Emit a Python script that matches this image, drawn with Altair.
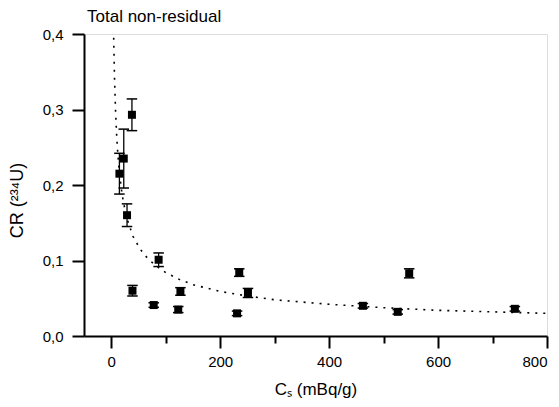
import altair as alt
import pandas as pd

# Measured points
cs = [15, 23, 38, 29, 39, 87, 78, 127, 123, 235, 251, 231, 462, 526, 547, 741]
cr = [0.215, 0.235, 0.293, 0.160, 0.060, 0.101, 0.041, 0.059, 0.035, 0.084,
      0.057, 0.030, 0.040, 0.032, 0.083, 0.036]
err = [0.027, 0.039, 0.021, 0.015, 0.007, 0.009, 0.003, 0.005, 0.004, 0.005,
       0.006, 0.003, 0.003, 0.003, 0.006, 0.003]

# Dotted fitted curve
fit_x = [4.5, 6, 8, 10, 12, 15, 20, 25, 30, 40, 50, 60, 80, 100, 125, 150,
         200, 250, 300, 400, 500, 600, 700, 800]
fit_y = [0.395, 0.342, 0.296, 0.265, 0.242, 0.216, 0.187, 0.168, 0.153, 0.132,
         0.119, 0.108, 0.094, 0.084, 0.075, 0.068, 0.059, 0.053, 0.048, 0.042,
         0.0375, 0.034, 0.032, 0.030]

x_ticks = [0, 100, 200, 300, 400, 500, 600, 700, 800]
y_ticks = [0.0, 0.05, 0.1, 0.15, 0.2, 0.25, 0.3, 0.35, 0.4]

df = pd.DataFrame({"cs": cs, "cr": cr, "err": err})
df["lo"] = df["cr"] - df["err"]
df["hi"] = df["cr"] + df["err"]
fit = pd.DataFrame({"x": fit_x, "y": fit_y})

FONT = "Liberation Sans"
xs = alt.Scale(domain=[-50, 800], nice=False, zero=False)
ys = alt.Scale(domain=[0, 0.4], nice=False)

x_major_test = "datum.value % 200 === 0"
y_major_test = "abs(datum.value * 10 - round(datum.value * 10)) < 0.001"

xax = alt.Axis(values=x_ticks, title="Cₛ  (mBq/g)", grid=False,
               tickSize={"condition": {"test": x_major_test, "value": 12}, "value": 7},
               tickWidth=2, domainWidth=2, domainColor="black", tickColor="black",
               labelFont=FONT, labelFontSize=15, labelColor="black", labelPadding=6,
               labelExpr="datum.value % 200 === 0 ? format(datum.value, 'd') : ''",
               labelOverlap=False,
               titleFont=FONT, titleFontSize=17, titleFontWeight="normal",
               titleColor="black", titlePadding=12)
yax = alt.Axis(values=y_ticks, title="CR (²³⁴U)", grid=False,
               tickSize={"condition": {"test": y_major_test, "value": 12}, "value": 7},
               tickWidth=2, domainWidth=2, domainColor="black", tickColor="black",
               labelFont=FONT, labelFontSize=15, labelColor="black", labelPadding=9,
               labelExpr="abs(datum.value * 10 - round(datum.value * 10)) < 0.001 ? replace(format(datum.value, '.1f'), '.', ',') : ''",
               labelOverlap=False,
               titleFont=FONT, titleFontSize=18, titleFontWeight="normal",
               titleColor="black", titlePadding=16, titleY=166)

curve = alt.Chart(fit).mark_line(color="black", strokeDash=[2, 6],
                                 strokeWidth=1.6, clip=True).encode(
    x=alt.X("x:Q", scale=xs, axis=xax),
    y=alt.Y("y:Q", scale=ys, axis=yax),
)

bars = alt.Chart(df).mark_rule(color="black", strokeWidth=1.3).encode(
    x=alt.X("cs:Q", scale=xs), y=alt.Y("lo:Q", scale=ys), y2="hi:Q")

cap_lo = alt.Chart(df).mark_point(shape="M -1 0 L 1 0", filled=False,
                                  color="black", strokeWidth=1.5, size=110,
                                  opacity=1).encode(
    x=alt.X("cs:Q", scale=xs), y=alt.Y("lo:Q", scale=ys))
cap_hi = alt.Chart(df).mark_point(shape="M -1 0 L 1 0", filled=False,
                                  color="black", strokeWidth=1.5, size=110,
                                  opacity=1).encode(
    x=alt.X("cs:Q", scale=xs), y=alt.Y("hi:Q", scale=ys))

pts = alt.Chart(df).mark_square(color="black", size=64, opacity=1).encode(
    x=alt.X("cs:Q", scale=xs), y=alt.Y("cr:Q", scale=ys))

chart = alt.layer(curve, bars, cap_lo, cap_hi, pts).properties(
    width=463, height=302,
    autosize=alt.AutoSizeParams(type="none"),
    padding={"left": 76, "top": 26, "right": 2, "bottom": 62},
    title=alt.TitleParams("Total non-residual", anchor="start", frame="group",
                          font=FONT, fontSize=17, fontWeight="normal",
                          color="black", offset=1, dx=3),
).configure_view(strokeWidth=0, stroke="transparent").configure(background="white")

chart.save("out.html", embed_options={"renderer": "svg", "actions": False})
